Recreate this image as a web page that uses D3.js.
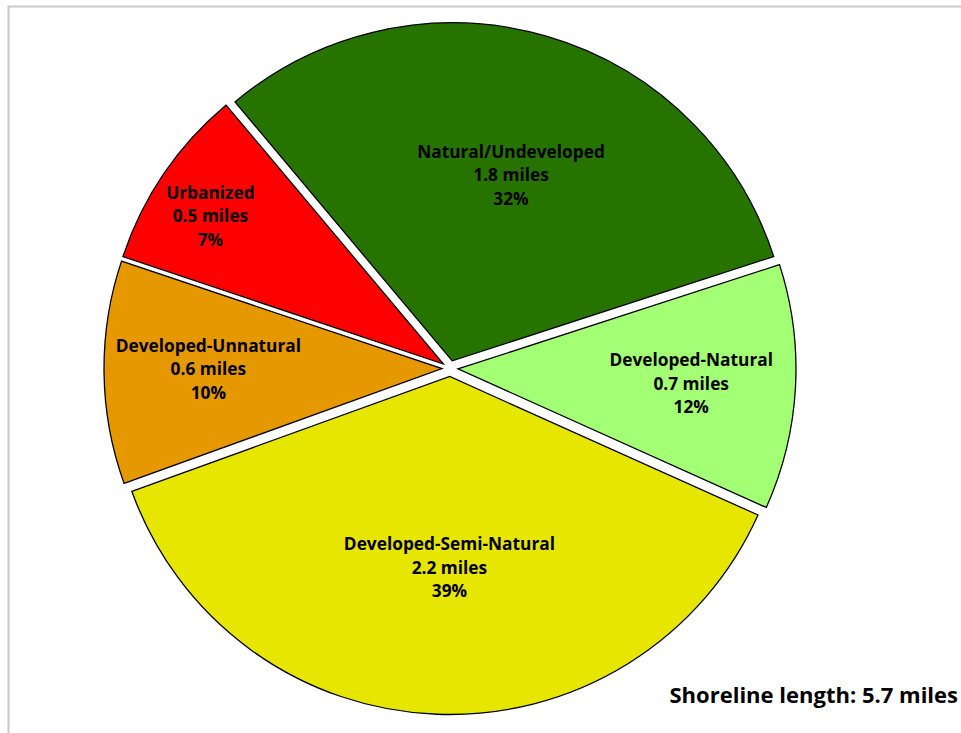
<!DOCTYPE html>
<html>
<head>
<meta charset="utf-8">
<script src="https://cdn.jsdelivr.net/npm/d3@7"></script>
<style>
html,body{margin:0;padding:0;background:#fff;overflow:hidden;}
svg{display:block;}
</style>
</head>
<body>
<svg id="chart" width="961" height="733"></svg>
<script>
// ---- data ----
const categories = ["Natural/Undeveloped", "Developed-Natural", "Developed-Semi-Natural", "Developed-Unnatural", "Urbanized"];
const sliceValues = [1.78, 0.67, 2.16, 0.61, 0.50];
const milesLabels = ["1.8 miles", "0.7 miles", "2.2 miles", "0.6 miles", "0.5 miles"];
const percentLabels = ["32%", "12%", "39%", "10%", "7%"];
const colors = ["#267300", "#A3FF73", "#E6E600", "#E69800", "#FF0000"];
const footerText = "Shoreline length: 5.7 miles";

// ---- layout ----
const cx = 450, cy = 368.5, R = 338, explode = 8;
const labelRadiusFrac = [0.60, 0.715, 0.59, 0.715, 0.84];
const labelAngleShift = [1.5, 0.5, -2, 0.5, -1.8];
const deg = Math.PI / 180;

const svg = d3.select("#chart");

// outer frame
svg.append("rect")
  .attr("x", 8.5).attr("y", 6.5).attr("width", 980).attr("height", 760)
  .attr("fill", "none").attr("stroke", "#c8c8c8").attr("stroke-width", 2);

const pie = d3.pie().sort(null).value(d => d)
  .startAngle(-40 * deg).endAngle(320 * deg);
const arcs = pie(sliceValues);
const arc = d3.arc().innerRadius(0).outerRadius(R);

const g = svg.append("g").attr("transform", `translate(${cx},${cy})`);

const slices = g.selectAll("g.slice").data(arcs).enter().append("g")
  .attr("class", "slice")
  .attr("transform", d => {
    const m = (d.startAngle + d.endAngle) / 2;
    return `translate(${explode * Math.sin(m)},${-explode * Math.cos(m)})`;
  });

slices.append("path")
  .attr("d", arc)
  .attr("fill", (d, i) => colors[i])
  .attr("stroke", "#000")
  .attr("stroke-width", 1.3)
  .attr("stroke-linejoin", "miter");

// labels
const lbl = g.selectAll("text.lbl").data(arcs).enter().append("text")
  .attr("class", "lbl")
  .attr("text-anchor", "middle")
  .attr("font-family", "'Open Sans', sans-serif")
  .attr("font-weight", "bold")
  .attr("font-size", "17.3px")
  .attr("fill", "#000")
  .attr("transform", (d, i) => {
    const m = (d.startAngle + d.endAngle) / 2 + labelAngleShift[i] * deg;
    const r = R * labelRadiusFrac[i];
    return `translate(${r * Math.sin(m)},${-r * Math.cos(m)})`;
  });

lbl.each(function(d, i) {
  const t = d3.select(this);
  const lines = [categories[i], milesLabels[i], percentLabels[i]];
  lines.forEach((s, k) => {
    t.append("tspan").attr("x", 0).attr("y", (k - 1) * 23.5 + 6).text(s);
  });
});

// footer
svg.append("text")
  .attr("x", 958).attr("y", 703)
  .attr("text-anchor", "end")
  .attr("font-family", "'Open Sans', sans-serif")
  .attr("font-weight", "bold")
  .attr("font-size", "22px")
  .attr("fill", "#000")
  .text(footerText);
</script>
</body>
</html>
